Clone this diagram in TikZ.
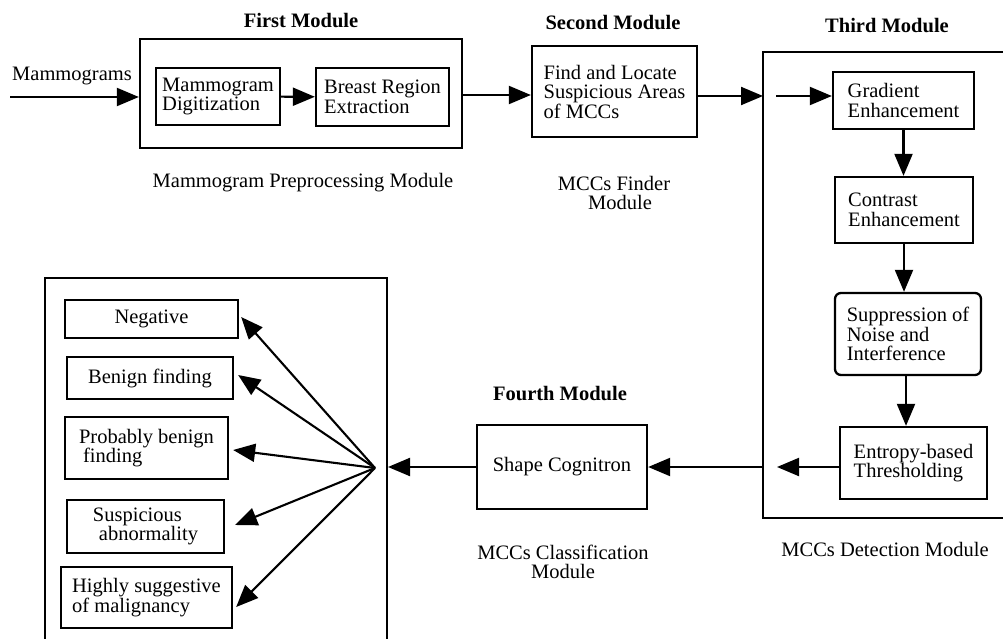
\documentclass[tikz,border=0pt]{standalone}
\usepackage{fontspec}
\setmainfont{Liberation Serif}
\usetikzlibrary{arrows.meta,calc}
\newcommand{\myfs}{\fontsize{20.5}{19.5}\selectfont}
\begin{document}
\begin{tikzpicture}[x=1pt,y=-1pt,
 font=\myfs,
 blk/.style={draw, line width=2.3pt, align=left, inner sep=2pt},
 lbl/.style={align=center, inner sep=0pt},
 ttl/.style={font=\myfs\bfseries, inner sep=0pt},
 arr/.style={line width=2.1pt, -{Triangle[length=22pt,width=18pt]}},
 ln/.style={line width=2.3pt}
]
\useasboundingbox (0,0) rectangle (1003,639);

% First module
\node[blk, minimum width=322pt, minimum height=109pt] (firstbox) at (301,93.5) {};
\node[blk, minimum width=124pt, minimum height=57pt] (digit) at (218,96.5) {Mammogram\\Digitization};
\node[blk, minimum width=133pt, minimum height=58pt] (breast) at (382.5,97) {Breast Region\\Extraction};
% Second module
\node[blk, minimum width=165pt, minimum height=91pt] (second) at (614.5,91.5) {Find and Locate\\Suspicious Areas\\of MCCs};
% Third module
\coordinate (tTR) at (1003,52);
\coordinate (tTL) at (763,52);
\coordinate (tBL) at (763,518);
\coordinate (tBR) at (1003,518);
\draw[ln] (tTR) -- (tTL) -- (tBL) -- (tBR);
\node[blk, minimum width=141pt, minimum height=57pt] (grad) at (903.5,100.5) {Gradient\\Enhancement};
\node[blk, minimum width=138pt, minimum height=66pt] (contrast) at (904,210) {Contrast\\Enhancement};
\node[blk, rounded corners=6pt, minimum width=146pt, minimum height=82pt] (suppr) at (908,334) {Suppression of\\Noise and\\Interference};
\node[blk, minimum width=147pt, minimum height=72pt] (entropy) at (913.5,463) {Entropy-based\\Thresholding};
% Fourth module
\node[blk, minimum width=170pt, minimum height=84pt] (shape) at (562,467) {Shape Cognitron};
% Classification outputs
\coordinate (cBL) at (45,642);
\coordinate (cTL) at (45,278);
\coordinate (cTR) at (387,278);
\coordinate (cBR) at (387,642);
\draw[ln] (cBL) -- (cTL) -- (cTR) -- (cBR);
\node[blk, align=center, minimum width=173pt, minimum height=38pt] (neg) at (151.5,319) {Negative};
\node[blk, align=center, minimum width=166pt, minimum height=42pt] (benign) at (150,378) {Benign finding};
\node[blk, minimum width=163pt, minimum height=62pt] (prob) at (146.5,448) {Probably benign\\\hspace*{4pt}finding};
\node[blk, minimum width=157pt, minimum height=53pt] (susp) at (145.5,526.5) {Suspicious\\\hspace*{6pt}abnormality};
\node[blk, minimum width=171pt, minimum height=61pt] (high) at (146.5,597.5) {Highly suggestive\\of malignancy};

% Labels
\node[lbl] (mamlbl) at (72,76) {Mammograms};
\node[ttl] (t1) at (301,21) {First Module};
\node[lbl] (l1) at (303,183) {Mammogram Preprocessing Module};
\node[ttl] (t2) at (613,23) {Second Module};
\node[lbl] (l2) at (614,193) {MCCs Finder\\\hspace*{12pt}Module};
\node[ttl] (t3) at (887,26) {Third Module};
\node[lbl] (l3) at (885,549) {MCCs Detection Module};
\node[ttl] (t4) at (560,394) {Fourth Module};
\node[lbl] (l4) at (563,562) {MCCs Classification\\Module};

% Connectors
\coordinate (mamin) at (10,97);
\draw[arr] (mamin) -- (mamin -| firstbox.west);
\draw[arr] (digit) -- (breast);
\coordinate (fout) at (462,95);
\draw[arr] (fout) -- (fout -| second.west);
\coordinate (tin) at (763,96);
\draw[arr] (second.east |- tin) -- (tin);
\coordinate (gin) at (776,96);
\draw[arr] (gin) -- (gin -| grad.west);
\draw[arr] (grad.south) -- (grad.south |- contrast.north);
\draw[arr] (contrast.south) -- (contrast.south |- suppr.north);
\draw[arr] ([xshift=-2pt]suppr.south) -- ([xshift=-2pt]suppr.south |- entropy.north);
\coordinate (eout) at (777,467);
\draw[arr] (entropy.west |- eout) -- (eout);
\coordinate (tout) at (763,467);
\draw[arr] (tout) -- (tout -| shape.east);
\coordinate (cin) at (388,467);
\draw[arr] (shape.west |- cin) -- (cin);
\coordinate (fan) at (375,468);
\draw[arr] (fan) -- ([shift={(2pt,2pt)}]neg.east);
\draw[arr] (fan) -- ([shift={(4pt,3pt)}]benign.east);
\draw[arr] (fan) -- ([shift={(4pt,-2pt)}]prob.east);
\draw[arr] (fan) -- ([shift={(10pt,1.5pt)}]susp.east);
\draw[arr] (fan) -- ([shift={(3pt,-9.5pt)}]high.east);
\end{tikzpicture}
\end{document}
